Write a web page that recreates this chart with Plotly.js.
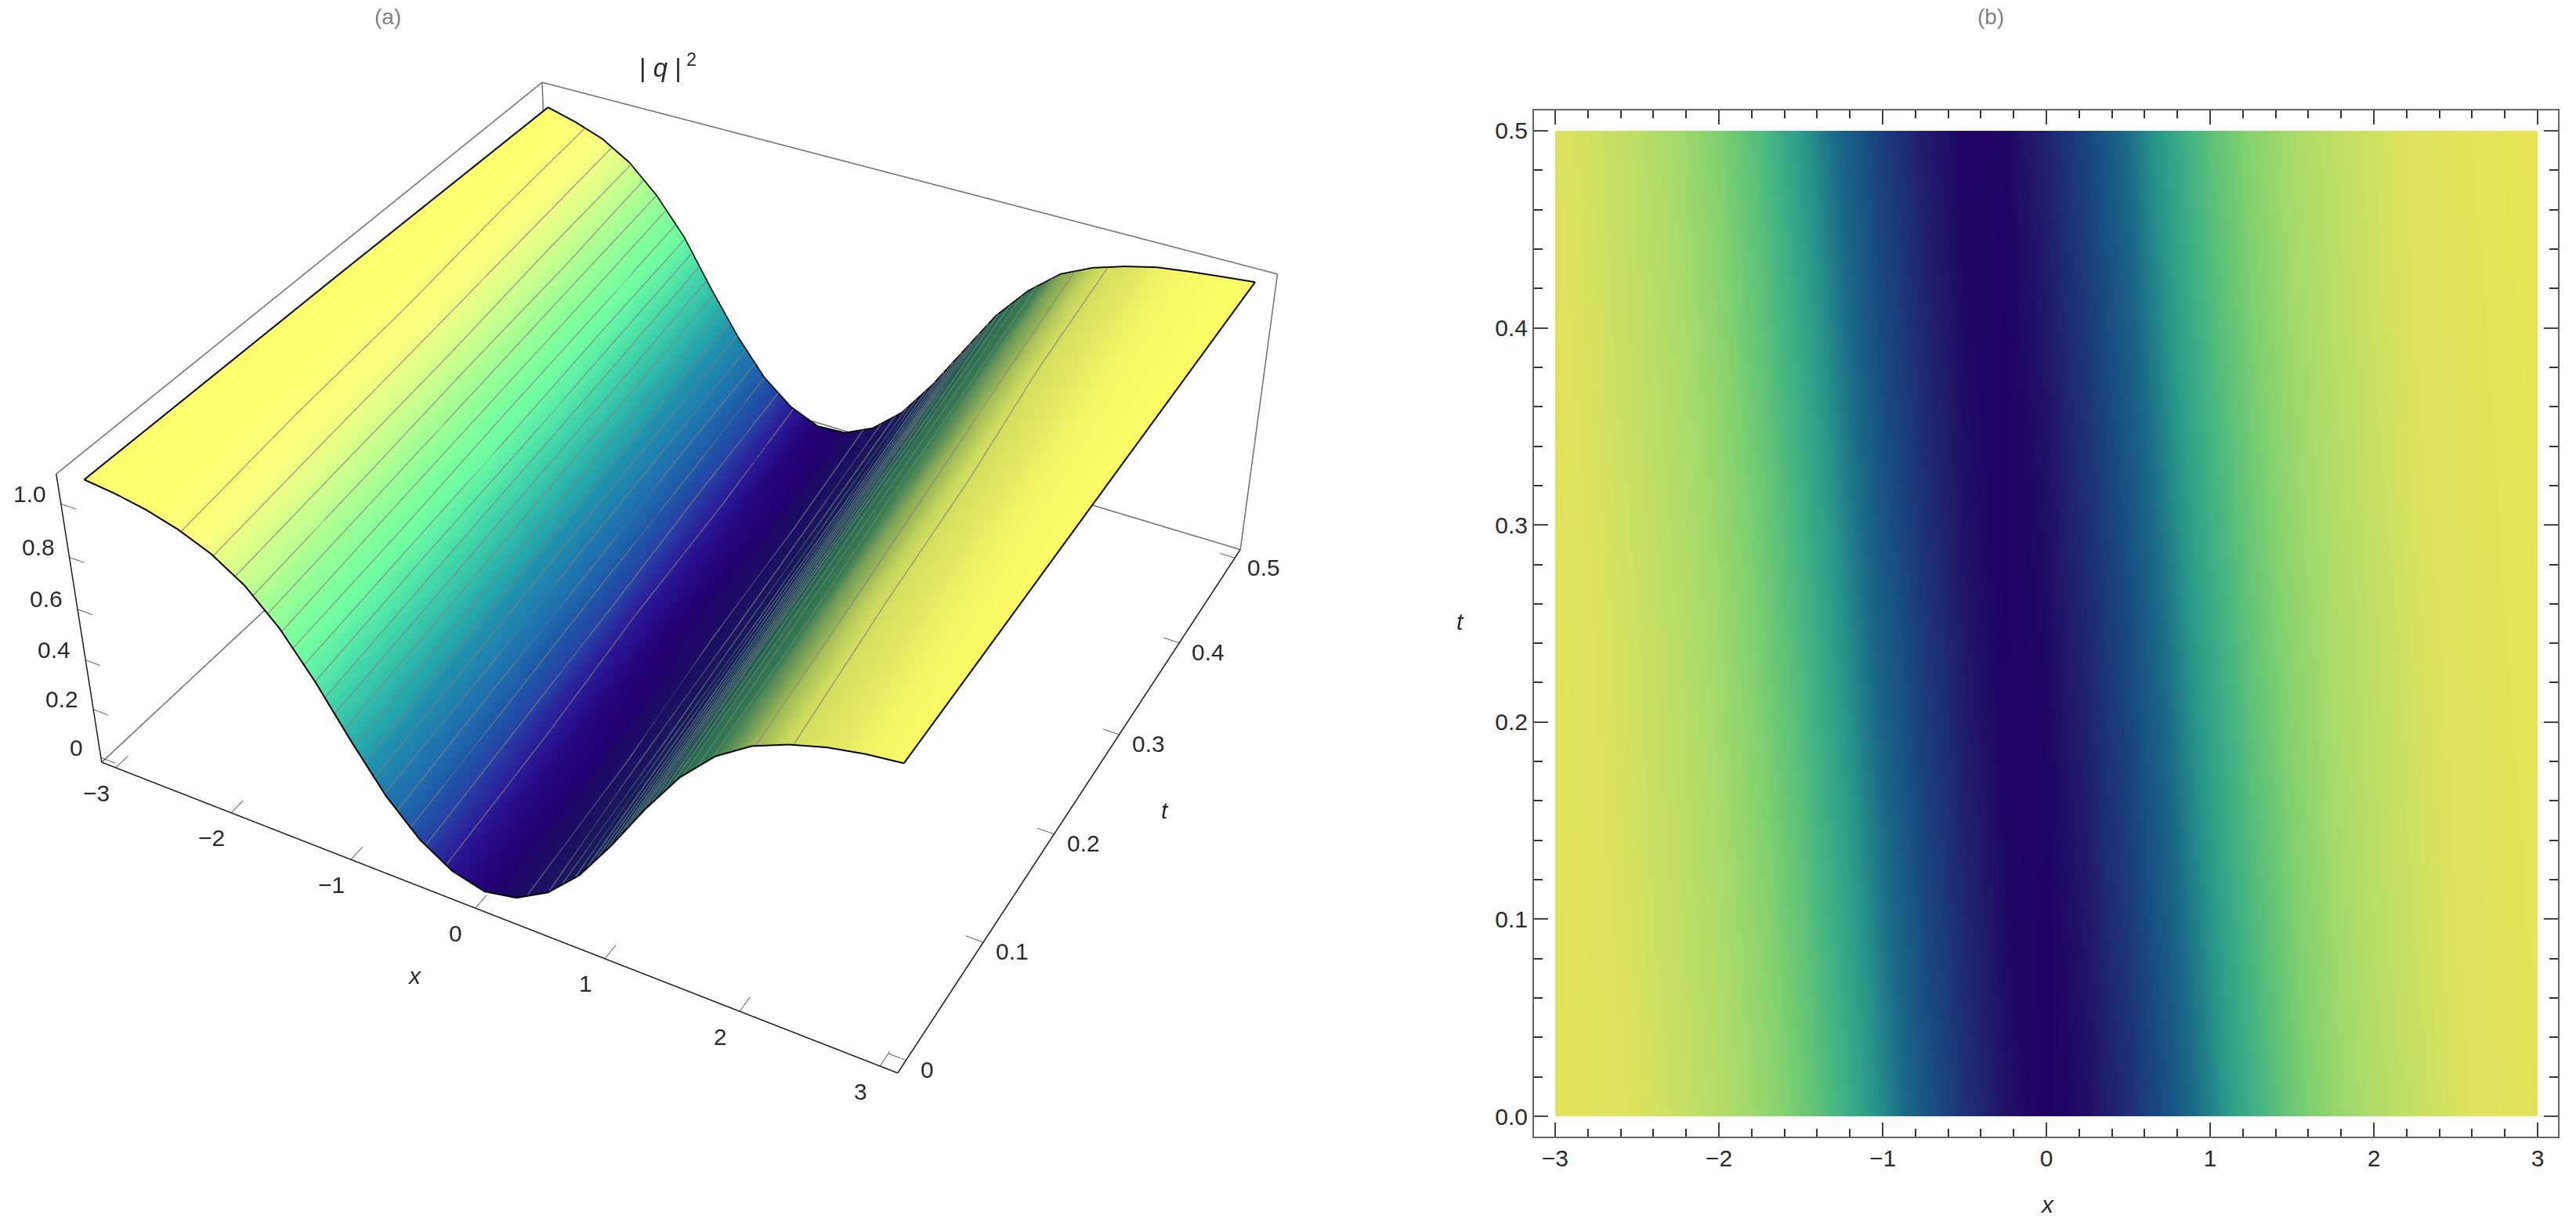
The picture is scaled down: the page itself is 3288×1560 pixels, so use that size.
<!DOCTYPE html><html style="overflow:hidden;height:100%"><head><meta charset="utf-8"><script src="https://cdn.plot.ly/plotly-3.0.1.min.js"></script></head><body style="margin:0;background:#fff;overflow:hidden;height:100%">
<div id="g" style="position:absolute;left:0;top:-909px;width:3288px;height:3112px"></div>
<script>
const xGrid=[-3,-2.75,-2.5,-2.25,-2,-1.75,-1.5,-1.25,-1,-.75,-.5,-.25,0,.25,.5,.75,1,1.25,1.5,1.75,2,2.25,2.5,2.75,3];
const tGrid=[0,.125,.25,.375,.5];
const zT0=[1.071,1.058,1.037,1.004,.955,.878,.76,.60,.414,.242,.114,.034,.001,.026,.098,.218,.386,.572,.738,.862,.945,.996,1.032,1.055,1.069];
const zT1=[1.066,1.05,1.022,.985,.929,.833,.699,.522,.34,.183,.075,.015,.004,.05,.143,.285,.46,.648,.793,.902,.971,1.014,1.043,1.062,1.074];
const zT2=[1.061,1.041,1.011,.965,.894,.78,.632,.442,.267,.132,.043,.003,.018,.084,.195,.358,.542,.714,.845,.935,.988,1.026,1.052,1.067,1.08];
const zT3=[1.053,1.028,.991,.939,.852,.723,.554,.368,.203,.089,.021,.002,.039,.125,.257,.432,.621,.772,.888,.961,1.009,1.04,1.06,1.072,1.085];
const zT4=[1.045,1.015,.975,.907,.80,.658,.47,.295,.15,.055,.005,.012,.07,.175,.33,.51,.69,.825,.925,.982,1.02,1.049,1.065,1.078,1.09];
const zRows=[zT0,zT1,zT2,zT3,zT4];
const contourLevels=[.05,.1,.15,.2,.25,.3,.35,.4,.45,.5,.55,.6,.65,.7,.75,.8,.85,.9,.95,1];
const heatStops=[0,.04,.09,.14,.2,.32,.46,.6,.7,.8,.9,1,1.04,1.09];
const heatColors=['#1f0064','#201468','#1f2a72','#1b3a7a','#194c82','#1b6a88','#2a9a8a','#43b384','#60c278','#7fd070','#a0d96c','#c6e064','#dde25e','#e8e456'];
const shadeStops=[-1.09,-1.04,-.975,-.925,-.875,-.825,-.775,-.725,-.675,-.625,-.575,-.525,-.475,-.425,-.375,-.325,-.275,-.2,-.15,-.1,-.06,-.03,0,.02,.1,.2,.3,.4,.5,.6,.67,.76,.85,.89,.95,1,1.04,1.065,1.09];
const shadeColors=['#ffff6c','#ffff70','#fbff80','#e0ff88','#c4ff90','#a8ff94','#90ff98','#7cff9e','#70fca2','#60f0a6','#50e4a8','#40d4aa','#38c4aa','#2cb4ac','#24a4ac','#2090ac','#1f84ae','#1f6cae','#1f58a8','#2640a4','#2a249a','#280e8c','#220070','#1e0a66','#1a1460','#161c5a','#13285a','#103358','#144058','#1a5054','#20604f','#2a6f50','#347a50','#5a9055','#9cb856','#cfdc5f','#e2e862','#f5f766','#ffff66'];
const xRange=[-3.125,3.125],tRange=[-.0104,.5104],zRange=[-.02,1.11];
const xTicks=[-3,-2,-1,0,1,2,3],tTicks=[0,.1,.2,.3,.4,.5],zTicks=[0,.2,.4,.6,.8,1];
const xTickText=['−3','−2','−1','0','1','2','3'],tTickText=['0','0.1','0.2','0.3','0.4','0.5'],zTickText=['0','0.2','0.4','0.6','0.8','1.0'];
const FW=3288,FH=3112,TOP=909,FONT='Liberation Sans, Arial, sans-serif';
const px=v=>v/FW,py=v=>1-(v+TOP)/FH;
const scale=(st,col,lo,hi)=>st.map((s,i)=>[(s-lo)/(hi-lo),col[i]]);
const shade=zRows.map(r=>{const m=r.indexOf(Math.min(...r));return r.map((v,i)=>i<m?-v:v)});
const ins=[.002,.0002,.0005];
const x0=xRange[0]+ins[0],x1=xRange[1]-ins[0],t0=tRange[0]+ins[1],t1=tRange[1]-ins[1],z0=zRange[0]+ins[2],z1=zRange[1]-ins[2];
function seg(list,color,width){const X=[],Y=[],Z=[];for(const s of list){for(const p of s){X.push(p[0]);Y.push(p[1]);Z.push(p[2])}X.push(null);Y.push(null);Z.push(null)}
 return {type:'scatter3d',mode:'lines',x:X,y:Y,z:Z,line:{color,width},hoverinfo:'skip',showlegend:false}}
const ttl=(k)=>xGrid.map((x,i)=>[x,tGrid[k],zRows[k][i]+.002]);
const sideL=tGrid.map((t,k)=>[xGrid[0],t,zRows[k][0]+.002]),sideR=tGrid.map((t,k)=>[xGrid[24],t,zRows[k][24]+.002]);
function levelLines(){const out=[];for(const L of contourLevels){const a=[],b=[];zRows.forEach((r,k)=>{const m=r.indexOf(Math.min(...r));
  for(let i=0;i<m;i++)if(r[i]>=L&&r[i+1]<L){const f=(r[i]-L)/(r[i]-r[i+1]);a.push([xGrid[i]+f*.25,tGrid[k],L+.002])}
  for(let i=m;i<24;i++)if(r[i]<L&&r[i+1]>=L){const f=(L-r[i])/(r[i+1]-r[i]);b.push([xGrid[i]+f*.25,tGrid[k],L+.002])}});
  if(a.length>1)out.push(a);if(b.length>1)out.push(b)}return out}
const traces=[
 {type:'surface',x:xGrid,y:tGrid,z:zRows,surfacecolor:shade,cmin:-1.09,cmax:1.09,colorscale:scale(shadeStops,shadeColors,-1.09,1.09),showscale:false,hoverinfo:'skip',
  lighting:{ambient:1,diffuse:0,specular:0,roughness:1,fresnel:0},
  contours:{x:{highlight:false},y:{highlight:false},z:{highlight:false}}},
 seg(levelLines(),'#808080',2),
 seg([ttl(0),ttl(4),sideL,sideR],'#000000',4),
 seg([[[x0,t0,z0],[x1,t0,z0]],[[x1,t0,z0],[x1,t1,z0]],[[x0,t0,z0],[x0,t0,z1]]],'#1a1a1a',3),
 seg([[[x0,t0,z1],[x0,t1,z1]],[[x0,t1,z1],[x1,t1,z1]],[[x1,t1,z1],[x1,t1,z0]],[[x0,t0,z0],[x0,t1,z0]],[[x0,t1,z0],[x1,t1,z0]],[[x0,t1,z0],[x0,t1,z1]]],'#6e6e6e',3),
 seg(xTicks.map(v=>[[v,t0,z0],[v,t0+.012,z0]]).concat(tTicks.map(v=>[[x1,v,z0],[x1-.125,v,z0]])).concat(zTicks.map(v=>[[x0,t0,v],[x0+.125,t0,v]])),'#333333',1.5),
 {type:'contour',x:xGrid,y:tGrid,z:zRows,xaxis:'x',yaxis:'y',zmin:0,zmax:1.09,colorscale:scale(heatStops,heatColors,0,1.09),showscale:false,hoverinfo:'skip',
  autocontour:false,contours:{coloring:'fill',showlines:false,start:0,end:1.09,size:.005},line:{width:0}}
];
const tf={family:FONT,size:30,color:'#2a2a2a'};
const sceneAnn=[];
xTicks.forEach((v,i)=>sceneAnn.push({x:v,y:t0,z:z0,text:xTickText[i],showarrow:false,xshift:-25,yshift:-32,font:tf}));
tTicks.forEach((v,i)=>sceneAnn.push({x:x1,y:v,z:z0,text:tTickText[i],showarrow:false,xshift:i?37:27,yshift:-12,font:tf}));
zTicks.forEach((v,i)=>sceneAnn.push({x:x0,y:t0,z:v,text:zTickText[i],showarrow:false,xshift:i?-40:-31,yshift:13,font:tf}));
const note=(x,y,text,size,color)=>({xref:'paper',yref:'paper',x:px(x),y:py(y),text,showarrow:false,font:{family:FONT,size,color},xanchor:'center',yanchor:'middle'});
const layout={width:FW,height:FH,margin:{l:0,r:0,t:0,b:0},paper_bgcolor:'#fff',plot_bgcolor:'#fff',showlegend:false,
 scene:{domain:{x:[0,1788/FW],y:[0,1]},aspectmode:'manual',aspectratio:{x:1,y:.9998,z:.4022},
  camera:{eye:{x:1.3055,y:-2.4069,z:1.9999},center:{x:-.0045,y:.0156,z:0},up:{x:0,y:0,z:1},projection:{type:'perspective'}},
  xaxis:{range:xRange,visible:false},yaxis:{range:tRange,visible:false},zaxis:{range:zRange,visible:false},bgcolor:'rgba(0,0,0,0)',annotations:sceneAnn,dragmode:false},
 xaxis:{domain:[px(1958),px(3265)],range:[-3.129,3.124],showgrid:false,zeroline:false,showline:true,mirror:'ticks',linecolor:'#666',linewidth:2,ticks:'inside',ticklen:18,tickwidth:1.5,tickcolor:'#444',tickmode:'array',tickvals:xTicks,ticktext:xTickText,tickfont:tf,anchor:'y',minor:{ticks:'inside',ticklen:10,dtick:.2,tick0:0,tickwidth:1.5,tickcolor:'#333',showgrid:false}},
 yaxis:{domain:[py(1451),py(141)],range:[-.0103,.5103],showgrid:false,zeroline:false,showline:true,mirror:'ticks',linecolor:'#666',linewidth:2,ticks:'inside',ticklen:18,tickwidth:1.5,tickcolor:'#444',tickmode:'array',tickvals:tTicks,ticktext:['0.0','0.1','0.2','0.3','0.4','0.5'],tickfont:tf,anchor:'x',minor:{ticks:'inside',ticklen:11,dtick:.02,tick0:0,tickwidth:1.5,tickcolor:'#333',showgrid:false}},
 annotations:[note(495,22,'(a)',28,'#808080'),note(2541,22,'(b)',28,'#808080'),
  note(852,84,'|<i> q </i>|<sup> 2</sup>',33,'#2a2a2a'),note(529,1245,'<i>x</i>',30,'#2a2a2a'),note(1487,1034,'<i>t</i>',30,'#2a2a2a'),
  note(2613,1537,'<i>x</i>',30,'#2a2a2a'),note(1864,793,'<i>t</i>',30,'#2a2a2a')]};
Plotly.newPlot('g',traces,layout,{displayModeBar:false});
</script></body></html>
